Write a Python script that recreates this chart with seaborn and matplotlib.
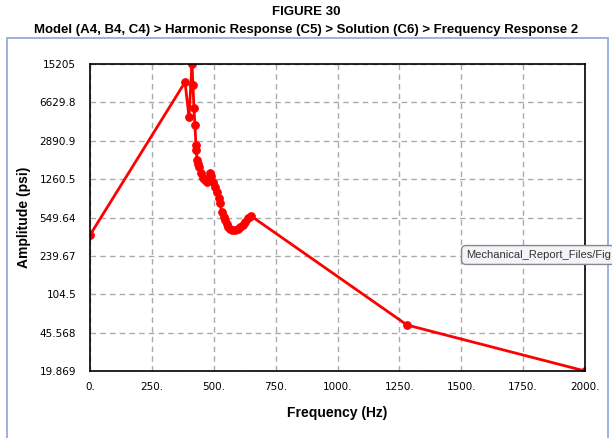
import numpy as np
import pandas as pd
import seaborn as sns
import matplotlib.pyplot as plt
from matplotlib.patches import Rectangle

# frekans cevabi verileri
freq = [0, 384, 400, 412, 416, 420, 424, 428, 430, 432, 436, 440, 448, 457, 465,
        473, 480, 485, 490, 497, 505, 513, 520, 525, 533, 540, 545, 552, 558, 566,
        574, 586, 598, 608, 618, 628, 638, 651, 1281, 2000]
amp = [376, 10264, 4817, 15205, 9620, 5851, 4052, 2630, 2360, 1901, 1760, 1635, 1450, 1289, 1230,
       1182, 1300, 1436, 1360, 1182, 1060, 952, 840, 751, 618, 560, 520, 480, 447, 430,
       419, 420, 428, 445, 467, 500, 543, 567, 53.7, 19.869]

ytick_vals = [19.869, 45.568, 104.5, 239.67, 549.64, 1260.5, 2890.9, 6629.8, 15205]
ytick_labels = ["19.869", "45.568", "104.5", "239.67", "549.64", "1260.5", "2890.9", "6629.8", "15205"]
xtick_vals = [0, 250, 500, 750, 1000, 1250, 1500, 1750, 2000]
xtick_labels = ["0.", "250.", "500.", "750.", "1000.", "1250.", "1500.", "1750.", "2000."]

df = pd.DataFrame({"Frequency": freq, "Amplitude": amp})

sns.set_style("white", {"text.color": "black", "axes.labelcolor": "black",
                        "xtick.color": "black", "ytick.color": "black"})
plt.rcParams['font.family'] = ['Liberation Sans Narrow', 'Liberation Sans', 'DejaVu Sans']

fig = plt.figure(figsize=(6.12, 4.38), dpi=100)
ax = fig.add_axes([90/612, 1-371/438, 495/612, 307/438])

sns.lineplot(data=df, x="Frequency", y="Amplitude", sort=False, color="red", linewidth=2,
             marker="o", markersize=5.5, markeredgecolor="red", ax=ax)

ax.set_yscale("log")
ax.set_xlim(0, 2000)
ax.set_ylim(19.869, 15205)
ax.set_yticks(ytick_vals)
ax.set_yticklabels(ytick_labels, family="DejaVu Sans", fontsize=7.5)
ax.minorticks_off()
ax.set_xticks(xtick_vals)
ax.set_xticklabels(xtick_labels, family="DejaVu Sans", fontsize=7.5)
ax.tick_params(axis="y", length=7, color="#999999", labelcolor="black", width=1, pad=3)
ax.tick_params(axis="x", length=0, labelcolor="black", pad=8)
ax.grid(True, linestyle=(0, (4, 3)), color="#aaaaaa", linewidth=1)
for s in ax.spines.values():
    s.set_color("black")
    s.set_linewidth(1.2)

ax.set_xlabel("Frequency (Hz)", fontsize=10, fontweight="bold", labelpad=10, color="black")
ax.set_ylabel("Amplitude (psi)", fontsize=10, fontweight="bold", labelpad=6, color="black")

fig.text(0.5, 1-12/438, "FIGURE 30", ha="center", va="center", fontsize=9.5,
         fontweight="bold", color="black")
fig.text(0.5, 1-30/438, "Model (A4, B4, C4) > Harmonic Response (C5) > Solution (C6) > Frequency Response 2",
         ha="center", va="center", fontsize=9.5, fontweight="bold", color="black")

# mavi cerceve
fig.patches.append(Rectangle((7/612, -0.05), 601/612, 1.05-38/438, transform=fig.transFigure,
                             fill=False, edgecolor="#8aa6d6", linewidth=1.2))

# tooltip
fig.text(466/612, 1-255/438, "Mechanical_Report_Files/Fig", ha="left", va="center",
         fontsize=8, family="Liberation Sans", color="#333333",
         bbox=dict(boxstyle="round,pad=0.4", facecolor="#f4f4f8", edgecolor="#888888"))

plt.savefig("out.png", dpi=100)
